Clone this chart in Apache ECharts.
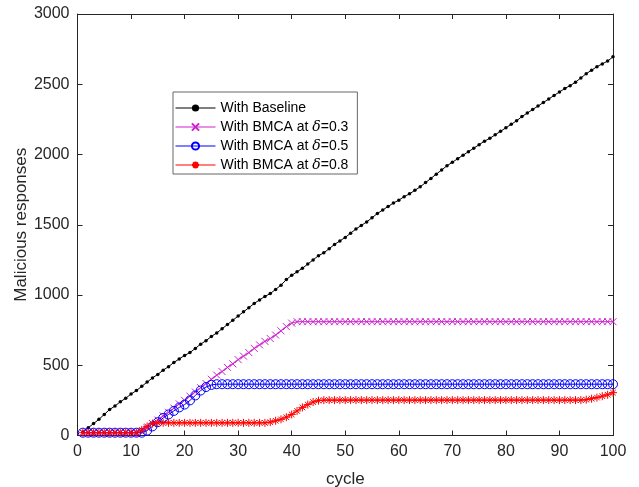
<!DOCTYPE html>
<html>
<head>
<meta charset="utf-8">
<script src="https://cdn.jsdelivr.net/npm/echarts@6/dist/echarts.min.js"></script>
<style>
	html, body { margin: 0; padding: 0; background: #fff; }
	#chart { width: 639px; height: 487px; }
</style>
</head>
<body>
<div id="chart"></div>
<script>
	// 横坐标 cycle 1..100
	var cycles = [];
	for (var i = 1; i <= 100; i++) cycles.push(i);

	// 纵坐标数据
	var baseline = [25, 55, 85, 115, 150, 185, 210, 240, 265, 295,
		320, 350, 380, 410, 435, 465, 490, 520, 545, 570,
		590, 620, 650, 675, 705, 730, 760, 790, 820, 850,
		880, 910, 940, 965, 990, 1010, 1040, 1070, 1110, 1140,
		1165, 1190, 1220, 1250, 1280, 1300, 1330, 1360, 1385, 1410,
		1440, 1470, 1495, 1520, 1550, 1580, 1605, 1630, 1655, 1675,
		1700, 1720, 1745, 1770, 1800, 1830, 1860, 1890, 1920, 1945,
		1970, 1995, 2020, 2045, 2070, 2095, 2115, 2140, 2165, 2190,
		2215, 2240, 2270, 2295, 2320, 2345, 2370, 2395, 2420, 2445,
		2470, 2490, 2515, 2545, 2575, 2600, 2625, 2645, 2665, 2695];

	var bmca03 = [20, 20, 20, 20, 20, 20, 20, 20, 20, 20,
		20, 25, 55, 85, 110, 140, 165, 195, 225, 250,
		280, 310, 340, 370, 400, 430, 455, 485, 510, 540,
		565, 590, 620, 645, 670, 690, 715, 745, 775, 800,
		810, 810, 810, 810, 810, 810, 810, 810, 810, 810,
		810, 810, 810, 810, 810, 810, 810, 810, 810, 810,
		810, 810, 810, 810, 810, 810, 810, 810, 810, 810,
		810, 810, 810, 810, 810, 810, 810, 810, 810, 810,
		810, 810, 810, 810, 810, 810, 810, 810, 810, 810,
		810, 810, 810, 810, 810, 810, 810, 810, 810, 810];

	var bmca05 = [20, 20, 20, 20, 20, 20, 20, 20, 20, 20,
		20, 20, 35, 65, 95, 125, 150, 175, 200, 220,
		250, 285, 320, 345, 360, 365, 365, 365, 365, 365,
		365, 365, 365, 365, 365, 365, 365, 365, 365, 365,
		365, 365, 365, 365, 365, 365, 365, 365, 365, 365,
		365, 365, 365, 365, 365, 365, 365, 365, 365, 365,
		365, 365, 365, 365, 365, 365, 365, 365, 365, 365,
		365, 365, 365, 365, 365, 365, 365, 365, 365, 365,
		365, 365, 365, 365, 365, 365, 365, 365, 365, 365,
		365, 365, 365, 365, 365, 365, 365, 365, 365, 365];

	var bmca08 = [20, 20, 20, 20, 20, 20, 20, 20, 20, 20,
		20, 40, 65, 85, 90, 90, 90, 90, 90, 90,
		90, 90, 90, 90, 90, 90, 90, 90, 90, 90,
		90, 90, 90, 90, 90, 95, 105, 115, 130, 150,
		175, 200, 220, 238, 248, 252, 252, 252, 252, 252,
		252, 252, 252, 252, 252, 252, 252, 252, 252, 252,
		252, 252, 252, 252, 252, 252, 252, 252, 252, 252,
		252, 252, 252, 252, 252, 252, 252, 252, 252, 252,
		252, 252, 252, 252, 252, 252, 252, 252, 252, 252,
		252, 252, 252, 252, 255, 262, 270, 280, 290, 305];

	var xTicks = [0, 10, 20, 30, 40, 50, 60, 70, 80, 90, 100];
	var yTicks = [0, 500, 1000, 1500, 2000, 2500, 3000];

	var legendNames = ['With Baseline', 'With BMCA at δ=0.3', 'With BMCA at δ=0.5', 'With BMCA at δ=0.8'];

	function pairs(vals) {
		return cycles.map(function (c, k) { return [c, vals[k]]; });
	}

	var fontFam = 'Liberation Sans, Arial, sans-serif';
	var axisColor = '#262626';

	// 坐标轴公共样式（MATLAB风格：刻度朝内、四边框）
	function makeAxis(pos, isX, showLabel) {
		var ticks = isX ? xTicks : yTicks;
		return {
			type: 'value',
			position: pos,
			min: ticks[0],
			max: ticks[ticks.length - 1],
			interval: ticks[1] - ticks[0],
			axisLine: { show: true, onZero: false, lineStyle: { color: axisColor, width: 1 } },
			axisTick: { show: true, inside: true, length: 5, lineStyle: { color: axisColor } },
			axisLabel: {
				show: showLabel, color: '#262626', fontSize: 16, fontFamily: fontFam, margin: 8,
				formatter: function (v) { return String(v); }
			},
			splitLine: { show: false }
		};
	}

	var xBottom = makeAxis('bottom', true, true);
	xBottom.name = 'cycle';
	xBottom.nameLocation = 'middle';
	xBottom.nameGap = 35;
	xBottom.nameMoveOverlap = false;
	xBottom.nameTextStyle = { color: '#262626', fontSize: 17, fontFamily: fontFam };

	var yLeft = makeAxis('left', false, true);
	yLeft.name = 'Malicious responses';
	yLeft.nameLocation = 'middle';
	yLeft.nameGap = 48;
	yLeft.nameMoveOverlap = false;
	yLeft.nameTextStyle = { color: '#262626', fontSize: 17, fontFamily: fontFam };

	var legendRich = {
		d: { fontStyle: 'italic', fontFamily: 'DejaVu Serif, serif', fontSize: 14, color: '#000' }
	};

	var chart = echarts.init(document.getElementById('chart'), null, { renderer: 'canvas' });
	chart.setOption({
		animation: false,
		backgroundColor: '#fff',
		grid: { left: 77.5, right: 26, top: 14, bottom: 51.5, containLabel: false, outerBoundsMode: 'none' },
		xAxis: [xBottom, makeAxis('top', true, false)],
		yAxis: [yLeft, makeAxis('right', false, false)],
		legend: {
			orient: 'vertical',
			left: 173,
			top: 92,
			itemWidth: 40,
			itemHeight: 9,
			itemGap: 5,
			padding: [9, 9, 2, 2],
			borderColor: '#666',
			borderWidth: 1,
			backgroundColor: '#fff',
			data: legendNames,
			lineStyle: { width: 1 },
			textStyle: { color: '#000', fontSize: 14, fontFamily: fontFam, rich: legendRich },
			formatter: function (name) {
				return name.replace('δ', '{d|δ}');
			}
		},
		series: [
			{
				name: legendNames[0],
				type: 'line',
				data: pairs(baseline),
				symbol: 'circle',
				symbolSize: 3.5,
				showAllSymbol: true,
				lineStyle: { color: '#000', width: 1 },
				itemStyle: { color: '#000' }
			},
			{
				name: legendNames[1],
				type: 'line',
				data: pairs(bmca03),
				symbol: 'path://M0,0L10,10M10,0L0,10',
				symbolSize: 7,
				showAllSymbol: true,
				lineStyle: { color: '#cc22cc', width: 1 },
				itemStyle: { color: 'transparent', borderColor: '#cc22cc', borderWidth: 1 }
			},
			{
				name: legendNames[2],
				type: 'line',
				data: pairs(bmca05),
				symbol: 'circle',
				symbolSize: 9,
				showAllSymbol: true,
				lineStyle: { color: '#0000ff', width: 1 },
				itemStyle: { color: 'transparent', borderColor: '#0000ff', borderWidth: 1 }
			},
			{
				name: legendNames[3],
				type: 'line',
				data: pairs(bmca08),
				symbol: 'path://M5,0L5,10M0,5L10,5M1.5,1.5L8.5,8.5M8.5,1.5L1.5,8.5',
				symbolSize: 8,
				showAllSymbol: true,
				lineStyle: { color: '#ff0000', width: 1 },
				itemStyle: { color: 'transparent', borderColor: '#ff0000', borderWidth: 1 }
			}
		]
	});
</script>
</body>
</html>
